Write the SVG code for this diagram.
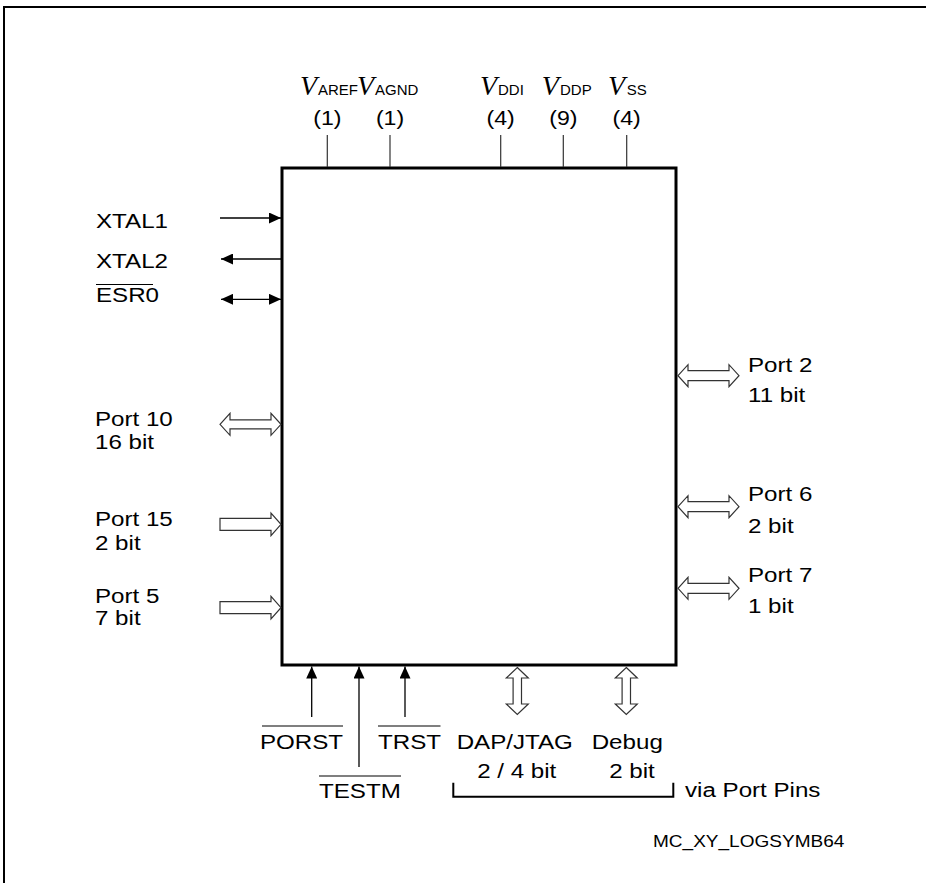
<svg xmlns="http://www.w3.org/2000/svg" width="926" height="883" viewBox="0 0 926 883">
<defs>
<style>
.t{font-family:"Liberation Sans",Arial,sans-serif;font-size:21px;fill:#000}
.m{font-family:"Liberation Sans",Arial,sans-serif;font-size:17px;fill:#000}
.v{font-family:"Liberation Serif","Times New Roman",serif;font-style:italic;font-size:28px;fill:#000}
.sub{font-family:"Liberation Sans",Arial,sans-serif;font-size:15px;fill:#000}
.pin{stroke:#333;stroke-width:1.2;fill:none}
.hol{fill:#fff;stroke:#333;stroke-width:1.2;stroke-linejoin:miter}
.ln{stroke:#000;stroke-width:1.3;fill:none}
.ov{stroke:#000;stroke-width:1.2}
</style>
<marker id="ah" markerUnits="userSpaceOnUse" markerWidth="12" markerHeight="11" refX="12" refY="5.5" orient="auto-start-reverse" viewBox="0 0 12 11"><path d="M0,0 L12,5.5 L0,11 z" fill="#000"/></marker>
</defs>
<rect width="926" height="883" fill="#fff"/>
<path d="M4,883 V7 H926" stroke="#000" stroke-width="2" fill="none"/>

<g id="chip"><rect x="282" y="168" width="394" height="497" fill="none" stroke="#000" stroke-width="3"/></g>

<g id="connectors">
  <line class="pin" x1="327.3" y1="135" x2="327.3" y2="167"/>
  <line class="pin" x1="390" y1="135" x2="390" y2="167"/>
  <line class="pin" x1="500.7" y1="135" x2="500.7" y2="167"/>
  <line class="pin" x1="563.3" y1="135" x2="563.3" y2="167"/>
  <line class="pin" x1="626.7" y1="135" x2="626.7" y2="167"/>
  <line class="ln" x1="220" y1="218" x2="281" y2="218" marker-end="url(#ah)"/>
  <line class="ln" x1="281" y1="259" x2="221" y2="259" marker-end="url(#ah)" stroke="#444"/>
  <line class="ln" x1="221" y1="299.3" x2="281" y2="299.3" marker-start="url(#ah)" marker-end="url(#ah)"/>
  <polygon class="hol" points="220,424.3 230,413.3 230,419.8 271,419.8 271,413.3 281,424.3 271,435.3 271,428.8 230,428.8 230,435.3"/>
  <polygon class="hol" points="220,518.3 271,518.3 271,513 281,524.3 271,535.6 271,530.3 220,530.3"/>
  <polygon class="hol" points="220,601.7 271,601.7 271,596.4 281,607.7 271,619 271,613.7 220,613.7"/>
  <polygon class="hol" points="678,375.7 688,364.7 688,370.7 729,370.7 729,364.7 739,375.7 729,386.7 729,380.7 688,380.7 688,386.7"/>
  <polygon class="hol" points="678,506.7 688,495.7 688,501.7 729,501.7 729,495.7 739,506.7 729,517.7 729,511.7 688,511.7 688,517.7"/>
  <polygon class="hol" points="678,588.3 688,577.3 688,583.3 729,583.3 729,577.3 739,588.3 729,599.3 729,593.3 688,593.3 688,599.3"/>
  <line class="ln" x1="311.7" y1="717" x2="311.7" y2="666.5" marker-end="url(#ah)"/>
  <line class="ln" x1="359" y1="767" x2="359" y2="666.5" marker-end="url(#ah)" stroke="#444"/>
  <line class="ln" x1="405" y1="717" x2="405" y2="666.5" marker-end="url(#ah)" stroke="#444"/>
  <polygon class="hol" points="517.3,667.5 528.3,678 521.5,678 521.5,704 528.3,704 517.3,714.5 506.3,704 513.1,704 513.1,678 506.3,678"/>
  <polygon class="hol" points="626.3,667.5 637.3,678 630.5,678 630.5,704 637.3,704 626.3,714.5 615.3,704 622.1,704 622.1,678 615.3,678"/>
  <path d="M453.3,782.7 V796.7 H673.3 V782.7" stroke="#000" stroke-width="2" fill="none"/>
</g>

<g id="supply">
  <text x="300" y="95"><tspan class="v">V</tspan><tspan class="sub" x="318">AREF</tspan></text>
  <text x="357" y="95"><tspan class="v">V</tspan><tspan class="sub" x="375">AGND</tspan></text>
  <text x="480" y="95"><tspan class="v">V</tspan><tspan class="sub" x="498">DDI</tspan></text>
  <text x="541.7" y="95"><tspan class="v">V</tspan><tspan class="sub" x="560">DDP</tspan></text>
  <text x="608" y="95"><tspan class="v">V</tspan><tspan class="sub" x="626.7">SS</tspan></text>
  <text class="t" text-anchor="middle" transform="translate(327.3 125) scale(1.1 1)">(1)</text>
  <text class="t" text-anchor="middle" transform="translate(390 125) scale(1.1 1)">(1)</text>
  <text class="t" text-anchor="middle" transform="translate(500.7 125) scale(1.1 1)">(4)</text>
  <text class="t" text-anchor="middle" transform="translate(563.3 125) scale(1.1 1)">(9)</text>
  <text class="t" text-anchor="middle" transform="translate(626.7 125) scale(1.1 1)">(4)</text>
</g>

<g id="left-pins">
  <text class="t" transform="translate(96 228.3) scale(1.15 1)">XTAL1</text>
  <text class="t" transform="translate(96 268.3) scale(1.15 1)">XTAL2</text>
  <text class="t" transform="translate(96 301.7) scale(1.15 1)">ESR0</text>
  <line class="ov" x1="96" y1="284.5" x2="153" y2="284.5"/>
  <text class="t" transform="translate(95 425.5) scale(1.15 1)">Port 10</text>
  <text class="t" transform="translate(95 449.3) scale(1.15 1)">16 bit</text>
  <text class="t" transform="translate(95 526) scale(1.15 1)">Port 15</text>
  <text class="t" transform="translate(95 550) scale(1.15 1)">2 bit</text>
  <text class="t" transform="translate(95 603.3) scale(1.15 1)">Port 5</text>
  <text class="t" transform="translate(95 625) scale(1.15 1)">7 bit</text>
</g>

<g id="right-pins">
  <text class="t" transform="translate(748 371.7) scale(1.15 1)">Port 2</text>
  <text class="t" transform="translate(748 401.7) scale(1.15 1)">11 bit</text>
  <text class="t" transform="translate(748 500.7) scale(1.15 1)">Port 6</text>
  <text class="t" transform="translate(748 533.3) scale(1.15 1)">2 bit</text>
  <text class="t" transform="translate(748 582.3) scale(1.15 1)">Port 7</text>
  <text class="t" transform="translate(748 613.3) scale(1.15 1)">1 bit</text>
</g>

<g id="bottom-pins">
  <text class="t" text-anchor="end" transform="translate(343 749) scale(1.15 1)">PORST</text>
  <line class="ov" x1="262" y1="726" x2="343" y2="726"/>
  <text class="t" transform="translate(319 798.3) scale(1.15 1)">TESTM</text>
  <line class="ov" x1="319" y1="776" x2="401" y2="776"/>
  <text class="t" transform="translate(378 749) scale(1.15 1)">TRST</text>
  <line class="ov" x1="378" y1="726" x2="440.5" y2="726"/>
  <text class="t" transform="translate(456.7 749) scale(1.15 1)">DAP/JTAG</text>
  <text class="t" text-anchor="middle" transform="translate(516.7 778.3) scale(1.15 1)">2 / 4 bit</text>
  <text class="t" transform="translate(591.7 749) scale(1.15 1)">Debug</text>
  <text class="t" text-anchor="middle" transform="translate(632 778.3) scale(1.15 1)">2 bit</text>
  <text class="t" transform="translate(685 796.7) scale(1.15 1)">via Port Pins</text>
</g>

<g id="caption">
  <text class="m" transform="translate(653 846.7) scale(1.12 1)">MC_XY_LOGSYMB64</text>
</g>
</svg>
